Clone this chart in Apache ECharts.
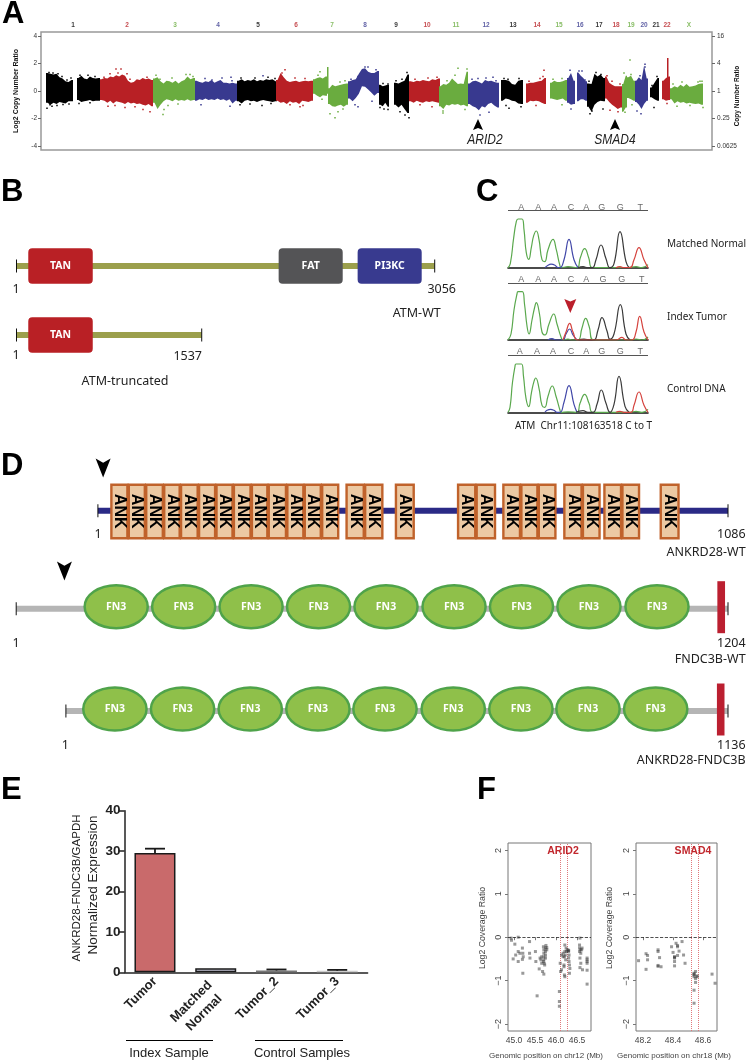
<!DOCTYPE html>
<html>
<head>
<meta charset="utf-8">
<title>Figure</title>
<style>html,body{margin:0;background:#fff}#c{width:747px;height:1062px}</style>
<script src="https://cdn.jsdelivr.net/npm/echarts@6/dist/echarts.min.js"></script>
</head>
<body>
<div id="c"></div>
<script>
/* Panel A: genome copy number track, read as hi/lo envelope per chromosome stretch */
const chrLabels = ["1","2","3","4","5","6","7","8","9","10","11","12","13","14","15","16","17","18","19","20","21","22","X"];
const chrLabelPos = [73,127,175,218,258,296,332,365,396,427,456,486,513,537,559,580,599,616,631,644,656,667,689];
const chrPalette = ["#000000","#b82025","#6aac3f","#38398f"];
// [colour index, start, end]
const trackSegs = [
  [0,46,73],[0,77,100],[1,100,153],[2,153,195],[3,195,237],[0,237,277],[1,276,313],
  [2,313,327],[2,327,328.5],[2,328,348],[3,348,379],[0,379,389],[0,394,409],[1,409,440],
  [2,439,468],[3,468,499],[0,501,523],[1,526,546],[2,550,567],[3,567,575],[3,577,587],
  [0,587,605],[1,605,622],[2,622,627],[2,627,635],[3,635,648],[0,650,659],[1,662,670],[1,667,668.5],[2,670,703]
];
const trackHi = [
  [1.3,1.25,1.2,1.25,1.0,0.9,0.7,0.65,0.8],
  [0.95,1.1,0.9,0.85,1.05,0.95,0.9,0.95],
  [0.85,0.95,0.9,1.05,1.0,1.15,1.05,1.2,1.1,0.75,0.6,0.65,0.85,0.8,0.95,0.85,0.9,0.8],
  [0.9,1.0,0.7,0.55,0.75,0.7,0.6,0.75,0.55,0.7,0.8,1.05,0.85,0.95],
  [0.75,0.65,0.6,0.7,0.65,0.8,0.6,0.7,0.8,0.6,0.6,0.55,0.6,0.55],
  [0.75,0.85,0.7,0.8,0.75,0.85,0.7,0.8,0.75,0.85,0.8,0.85,0.7],
  [0.8,1.3,1.0,0.75,0.65,0.7,0.75,0.65,0.7,0.75,0.7,0.75],
  [0.85,0.95,1.0,0.9,1.05],
  [1.75],
  [0.2,0.45,0.35,0.4,0.45,0.5,0.55],
  [0.7,0.8,0.85,1.25,1.6,1.65,1.4,1.3,1.3,1.45],
  [0.45,0.35,0.4,0.45],
  [0.6,0.55,0.65,0.75,1.2],
  [0.7,0.65,0.75,0.7,0.8,0.75,0.7,0.85,0.8,0.9],
  [0.35,0.5,0.45,0.6,0.9,0.7,0.5,0.55,0.5,1.4],
  [0.55,0.7,0.75,0.65,0.55,0.8,0.7,0.75,0.65,0.6],
  [0.8,0.8,0.75,0.5,0.45,0.75,0.8],
  [0.55,0.6,0.6,0.65,0.7,0.75,0.95],
  [0.6,0.75,0.65,0.65,0.7,0.8],
  [0.95,1.3,0.75],
  [1.35,1.1,0.95,0.7],
  [0.55,0.5,1.25,1.05,1.2,0.95],
  [1.05,0.6,0.45,0.35,0.35,0.35],
  [0.5,1.1],
  [1.0,1.1,0.75],
  [0.75,1.0,0.8,1.85,0.9],
  [0.25,0.6,0.95],
  [0.75,0.95,1.05],
  [2.4],
  [0.2,0.35,0.25,0.45,0.3,0.5,0.3,0.35,0.4,0.5,0.55]
];
const trackLo = [
  [-0.85,-1.0,-0.85,-0.95,-0.8,-0.85,-0.9,-0.75,-0.75],
  [-0.65,-0.8,-0.75,-0.7,-0.65,-0.75,-0.7,-0.7],
  [-0.65,-0.7,-0.85,-0.7,-0.9,-0.75,-0.8,-0.85,-0.95,-0.8,-0.9,-0.85,-0.95,-0.9,-1.0,-1.05,-0.95,-1.1],
  [-0.85,-1.3,-1.0,-0.75,-0.6,-0.65,-0.75,-0.6,-0.7,-0.65,-0.7,-0.6,-0.7,-0.65],
  [-0.7,-0.6,-0.65,-0.55,-0.65,-0.6,-0.65,-0.55,-0.65,-0.6,-0.7,-0.6,-0.9,-0.7],
  [-0.75,-0.9,-0.7,-0.65,-0.75,-0.7,-0.8,-0.7,-0.65,-0.7,-0.75,-0.8,-0.75],
  [-0.7,-0.85,-0.8,-0.95,-0.75,-0.85,-0.8,-0.95,-0.7,-0.75,-0.8,-0.7],
  [-0.2,-0.35,-0.45,-0.3,-0.35],
  [-0.2],
  [-0.95,-1.1,-1.15,-1.05,-1.0,-1.15,-1.0],
  [-0.55,-0.75,-0.5,-0.2,0.35,0.3,0.1,-0.1,-0.35,-0.15],
  [-1.0,-1.1,-0.85,-1.15],
  [-1.0,-1.2,-1.0,-1.3,-1.6],
  [-0.75,-0.85,-0.7,-0.8,-0.85,-0.75,-0.8,-0.75,-0.8,-0.85],
  [-1.1,-1.3,-1.0,-1.05,-0.95,-1.0,-0.95,-1.05,-1.0,-1.1],
  [-0.95,-1.1,-1.2,-1.4,-1.1,-1.2,-0.95,-0.85,-1.05,-1.2],
  [-0.7,-0.55,-0.6,-0.7,-0.75,-0.9,-0.95],
  [-0.85,-0.7,-0.75,-0.7,-0.75,-0.85,-0.95],
  [-0.55,-0.6,-0.65,-0.6,-0.55,-0.7],
  [-0.85,-1.0,-0.95],
  [-0.75,-0.6,-0.6,-0.7],
  [-1.15,-1.5,-1.0,-0.8,-0.7,-0.75],
  [-0.55,-0.8,-1.0,-1.15,-1.3,-1.2],
  [-1.5,-1.2],
  [-0.5,-0.6,-0.7],
  [-0.8,-1.0,-1.3,-0.95,-0.7],
  [-0.45,-0.6,-0.7],
  [-0.6,-0.7,-0.65],
  [-0.3],
  [-0.6,-0.9,-0.75,-0.85,-0.8,-0.9,-0.85,-0.9,-0.95,-0.9,-1.0]
];
const outliersBlack = [[47,-1.25],[50,-1.0],[52,-1.1],[57,-1.05],[63,-0.98],[69,-0.95],[79,-0.9],[90,-0.85],[240,-1.0],[250,-0.95],[262,-1.05],[271,-0.9],
  [380,-1.2],[384,-1.3],[388,-1.35],[400,-1.5],[405,-1.75],[409,-1.95],[408,-1.5],[506,-1.05],[509,-1.25],[521,-1.15],[590,-1.65],[592,-1.45],[603,-1.3],[654,-1.2],
  [49,1.35],[53,1.3],[58,1.25],[62,1.05],[67,0.8],[71,0.95],[80,1.15],[88,1.15],[95,1.05],[241,0.95],[255,0.95],[268,1.0],[275,0.9],[383,0.55],[388,0.5],[396,0.75],[402,0.85],[407,1.35],[504,0.9],[508,0.85],[519,0.9],[589,0.7],[596,1.35],[601,1.2],[652,0.4],[657,1.05]];
const outliersRed = [[116,1.6],[121,1.6],[108,-1.1],[115,-1.05],[125,-1.2],[135,-1.15],[143,-1.35],[150,-1.5],[285,1.55],[290,-1.0],[300,-1.15],[303,-1.05],[420,-1.0],[432,-1.15],[544,1.5],[536,-1.05],[610,-1.4],[618,-1.5],[667,-0.9],
  [104,1.0],[110,1.25],[118,1.3],[127,1.25],[130,0.85],[147,1.0],[282,1.3],[295,0.95],[305,0.9],[415,0.85],[428,0.95],[437,1.0],[529,0.7],[543,1.05],[540,0.9],[607,1.1],[612,0.7],[620,0.5]];
const outliersGreen = [[163,-1.7],[164,-1.35],[168,-1.05],[178,-0.95],[186,1.2],[320,1.4],[322,-0.6],[330,-1.65],[335,-1.95],[338,-1.5],[343,-1.3],[443,-1.45],[443,-1.6],[458,1.65],[465,-1.35],[562,-1.0],[630,2.25],[625,-1.55],[632,-1.0],[677,-1.1],[690,-1.05],[703,-1.2],[700,0.7],
  [156,1.15],[160,0.85],[172,0.95],[190,1.2],[193,1.05],[318,1.15],[340,0.65],[345,0.75],[447,0.75],[455,1.15],[467,1.6],[553,0.85],[562,0.9],[624,1.3],[631,1.2],[673,0.5],[682,0.65],[698,0.65],[702,0.7]];
const outliersBlue = [[201,-1.0],[230,-1.1],[231,1.0],[263,1.1],[365,1.75],[355,-1.0],[358,-1.15],[372,-0.75],[480,-1.75],[489,-1.55],[493,1.0],[571,-1.3],[582,1.45],[637,-1.45],[641,-1.65],[645,1.75],
  [205,0.9],[212,0.8],[222,0.95],[232,0.75],[351,0.85],[358,1.05],[368,1.75],[376,1.55],[472,0.85],[478,0.9],[486,0.95],[496,0.75],[570,1.5],[579,1.45],[585,0.8],[645,1.95],[640,1.1]];
const trackTicksLeft = [-4,-2,0,2,4];
const trackTicksRight = ["0.0625","0.25","1","4","16"];
const trackArrows = [[478,-2.44],[615,-2.44]];

/* Panel B: ATM domains, residues */
const atmDomainNames = ["TAN","FAT","PI3KC"];
const atmDomainStart = [87,1916,2493];
const atmDomainEnd = [558,2384,2961];
const atmLength = 3056;
const atmTruncDrawnEnd = 1354;

/* Panel C: sanger traces, [scan, intensity] */
const baseLetters = ["A","A","A","C","A","G","G","T"];
const baseLetterPos = [
  [13.3,30.3,46,63,78.3,93.7,112.3,132.3],
  [13.3,30.3,46,63,78.3,95,113.7,133.7],
  [11.7,29,45,63,78.3,93.7,112.3,132.3]
];
const traceA = [
  [[0,0],[2.3,4],[5.7,30],[8.3,46],[10,48.7],[14,48.7],[16,38],[18.3,15],[20.7,8.3],[23.3,20],[25.7,32],[28.3,36.7],[31,28],[34,8],[36.7,6],[40,18],[45,28.3],[48.3,18],[51.7,3],[53.3,0],[60,1],[69,0],[72.3,10],[76.7,19],[80.7,10],[84.3,0],[120,0],[128,1],[134,0],[140,3]],
  [[0,0],[3,6],[6,30],[9,46],[10,48.3],[14.3,48.3],[16.5,36],[19,14],[21,6],[24,20],[26.5,32],[28.3,37.3],[31.5,26],[34,8],[37,5],[41,16],[45.7,26],[49,16],[53,3],[55,0],[60,1],[64,0],[70,0],[74,12],[77.7,21.7],[81,14],[85.7,0],[122,0],[128,1],[134,0],[140,3]],
  [[0,0],[2,5],[4.5,30],[7,46],[8,48.3],[13.5,48.3],[15.5,36],[18,14],[20.7,5.7],[23.5,20],[26,31],[27.7,34.3],[31,24],[34,7],[36.7,5],[40,16],[44.3,26.3],[48,16],[52,2],[53,0],[60,0.5],[69,0],[72,9],[76.7,18],[81,9],[85,0],[122,0],[128,1],[134,0],[140,3]]
];
const traceC = [
  [[37,0],[40,2.5],[43,3.5],[47,2.5],[50,0],[52,0],[56,8],[61,28.3],[66,8],[70,0]],
  [[40,0],[44,1.3],[48,0],[55,0],[58,6],[61.7,11],[65,5],[69,0]],
  [[37,0],[39,2],[42.7,3],[46,2],[49,0],[52,0],[56,10],[61,26.7],[66,8],[69,0]]
];
const traceG = [
  [[70,0],[75,1],[80,0],[84.3,0],[88,8],[93,22.7],[98,9],[102,0],[106,4],[112,36],[118,6],[121,0]],
  [[70,0],[76,1],[82,0],[86,0],[90,10],[94,22.3],[99,9],[102,0.7],[106,6],[112.3,35.3],[118,6],[122,0]],
  [[68,0],[75,1.7],[80,0],[85,0],[89,8],[93.3,22.3],[98,9],[102,0],[106,8],[111,36],[117,6],[121,0]]
];
const traceT = [
  [[108,0],[112,1],[116,0],[122,0],[126,8],[131,20],[136,8],[140,0]],
  [[55,0],[58,8],[61.7,16.7],[65,8],[70,0],[108,0],[114,2.7],[118,0],[124,0],[128,8],[131.7,23.7],[136,8],[140,0]],
  [[108,0],[112,1],[116,0],[123,0],[126,7],[131,20.3],[136,7],[140,0]]
];
const mutationMark = [62.3,34];

/* Panel D: domain positions, residues */
const ankStart = [23,53,83,114,143,174,204,234,265,294,326,356,386,428,460,513,620,652,698,729,759,803,835,872,903,969];
const ankEnd = [53,83,114,143,174,204,234,265,294,326,356,386,416,460,492,546,652,686,729,759,790,835,866,903,934,1002];
const ankrdLength = 1086;
const ankrdMark = [10,42.7];
const fndcLength = 1204;
const fndcFn3Start = [115,229,343,457,571,686,800,914,1029];
const fndcFn3End = [225,339,453,567,681,796,910,1024,1139];
const fndcTail = [1186,1199];
const fndcMark = [82.5,37.7];
const fusionLength = 1136;
const fusionFn3Start = [29,145,261,377,492,609,725,840,956];
const fusionFn3End = [141,257,373,489,604,721,837,952,1068];
const fusionTail = [1117,1130];

/* Panel E */
const qpcrCats = ["Tumor","Matched Normal","Tumor_2","Tumor_3"];
const qpcrVals = [29.5,1.0,0.45,0.4];
const qpcrErrTop = [30.6,1.0,0.7,0.6];

/* Panel F: [position Mb, log2 ratio] */
const arid2Pts = [[44.93,-0.02],[44.94,-0.07],[45.02,-0.16],[45.1,0],[45.1,-0.33],[45.14,-0.37],[45.04,-0.41],[44.98,-0.5],[45.1,-0.56],[45.2,-0.25],[45.22,-0.45],[45.21,-0.37],[45.2,-0.51],[45.21,-0.83],[45.37,-0.1],[45.37,-0.37],[45.38,-0.48],[45.51,-0.33],[45.52,-0.56],[45.6,-0.73],[45.62,-0.48],[45.64,-0.52],[45.66,-0.45],[45.68,-0.79],[45.71,-0.85],[45.7,-0.22],[45.71,-0.29],[45.71,-0.37],[45.71,-0.45],[45.71,-0.52],[45.72,-0.6],[45.75,-0.25],[45.75,-0.33],[45.75,-0.41],[45.75,-0.48],[45.76,-0.19],[45.78,-0.24],[45.78,-0.29],[45.7,-0.56],[45.66,-0.6],[45.73,-0.64],[45.55,-1.35],[46.08,-1.25],[46.08,-1.48],[46.08,-1.59],[46.1,-0.6],[46.11,-0.79],[46.13,-0.41],[46.17,-0.45],[46.19,-0.64],[46.2,-0.87],[46.21,-0.91],[46.19,-0.68],[46.21,-0.33],[46.22,-0.41],[46.21,-0.18],[46.24,-0.25],[46.25,-0.33],[46.27,-0.29],[46.29,-0.32],[46.3,-0.32],[46.3,-0.3],[46.31,-0.41],[46.3,-0.48],[46.31,-0.56],[46.32,-0.64],[46.33,-0.72],[46.32,-0.83],[46.23,-0.52],[46.2,-0.45],[46.17,-0.37],[46.13,-0.75],[46.57,-0.02],[46.56,-0.18],[46.56,-0.25],[46.56,-0.33],[46.58,-0.29],[46.59,-0.37],[46.61,-0.29],[46.62,-0.25],[46.57,-0.48],[46.59,-0.6],[46.57,-0.7],[46.63,-0.75],[46.74,-0.48],[46.74,-0.52],[46.74,-0.56],[46.74,-0.6],[46.74,-0.76],[46.74,-1.08]];
const smad4Pts = [[48.17,-0.54],[48.22,-0.38],[48.23,-0.42],[48.23,-0.52],[48.22,-0.74],[48.3,-0.29],[48.3,-0.33],[48.31,-0.47],[48.3,-0.65],[48.3,-0.67],[48.32,-0.68],[48.39,-0.22],[48.4,-0.35],[48.41,-0.45],[48.41,-0.48],[48.41,-0.46],[48.41,-0.66],[48.41,-0.56],[48.42,-0.14],[48.43,-0.19],[48.43,-0.22],[48.43,-0.42],[48.44,-0.32],[48.46,-0.1],[48.47,-0.41],[48.48,-0.6],[48.54,-0.83],[48.54,-0.87],[48.54,-0.85],[48.55,-0.79],[48.54,-0.91],[48.55,-0.95],[48.56,-0.91],[48.56,-0.89],[48.55,-1.04],[48.54,-1.22],[48.54,-1.52],[48.66,-0.85],[48.68,-1.06]];
const arid2Bounds = [46.09,46.27];
const smad4Bounds = [48.52,48.57];

const grids = [], xAxes = [], yAxes = [], series = [], gfx = [];
const SANS = '"Liberation Sans", Arial, sans-serif';
const HUM = '"Noto Sans", sans-serif';

function addGrid(g, x, y) {
  const i = grids.length;
  grids.push(g);
  xAxes.push(Object.assign({ gridIndex: i, type: "value" }, x));
  yAxes.push(Object.assign({ gridIndex: i, type: "value" }, y));
  return i;
}
function txt(x, y, text, size, opts) {
  gfx.push(Object.assign({ type: "text", x, y, silent: true, style: Object.assign({
    text, fontSize: size, fontFamily: HUM, fill: "#222", align: "left", verticalAlign: "middle" }, (opts && opts.style) || {}) },
    opts && opts.el));
}
const rect = (x, y, w, h, style, r) => ({ type: "rect", shape: { x, y, width: w, height: h, r: r || 0 }, style });

/* ---- A ---- */
const gA = addGrid({ left: 41, top: 32, width: 671, height: 118, show: true, borderColor: "#999", borderWidth: 1.5, backgroundColor: "transparent" },
  { min: 41, max: 712, show: false },
  { min: -4.29, max: 4.29, splitLine: { show: false },
    axisLine: { show: false }, axisTick: { length: 3, lineStyle: { color: "#666" }, customValues: trackTicksLeft },
    axisLabel: { customValues: trackTicksLeft, fontSize: 6.5, color: "#333", margin: 4, fontFamily: SANS } });

// one filled outline per stretch: along the hi values, back along the lo values
series.push({ type: "custom", xAxisIndex: gA, yAxisIndex: gA, silent: true, data: trackSegs.map((s, i) => [i]), renderItem: (p, api) => {
  const i = api.value(0), s = trackSegs[i], hi = trackHi[i], lo = trackLo[i];
  const w = (s[2] - s[1]) / hi.length, pts = [];
  pts.push(api.coord([s[1], hi[0]]));
  hi.forEach((v, k) => pts.push(api.coord([s[1] + (k + 0.5) * w, v])));
  pts.push(api.coord([s[2], hi[hi.length - 1]]), api.coord([s[2], lo[lo.length - 1]]));
  for (let k = lo.length - 1; k >= 0; k--) pts.push(api.coord([s[1] + (k + 0.5) * w, lo[k]]));
  pts.push(api.coord([s[1], lo[0]]));
  return { type: "polygon", shape: { points: pts }, style: { fill: chrPalette[s[0]] } };
} });
[outliersBlack, outliersRed, outliersGreen, outliersBlue].forEach((pts, i) => series.push({
  type: "scatter", xAxisIndex: gA, yAxisIndex: gA, data: pts, symbol: "rect", symbolSize: 1.5, silent: true, itemStyle: { color: chrPalette[i], opacity: 1 } }));
series.push({ type: "scatter", xAxisIndex: gA, yAxisIndex: gA, silent: true, symbol: "path://M50,0 L100,100 L50,82 L0,100 Z", symbolSize: [10, 11],
  data: trackArrows, itemStyle: { color: "#000", opacity: 1 } });
series.push({ type: "scatter", xAxisIndex: gA, yAxisIndex: gA, silent: true, symbolSize: 0,
  data: chrLabels.map((c, i) => ({ value: [chrLabelPos[i], 4.29],
    label: { show: true, formatter: c, position: "top", distance: 3, fontSize: 6.5, fontWeight: "bold", fontFamily: SANS, color: chrPalette[i % 4] } })) });

/* ---- protein rows (B, D) ---- */
function proteinRow(x0, x1, cy, len) {
  return addGrid({ left: x0, width: x1 - x0, top: cy - 70, height: 140 },
    { min: 1, max: len, show: false }, { min: -70, max: 70, show: false });
}
function backbone(g, end, color, thick) {
  series.push({ type: "custom", xAxisIndex: g, yAxisIndex: g, silent: true, data: [[1, end]], z: 2, renderItem: (p, api) => {
    const a = api.coord([api.value(0), 0]), b = api.coord([api.value(1), 0]);
    return { type: "group", children: [
      rect(a[0], a[1] - thick / 2, b[0] - a[0], thick, { fill: color }),
      rect(a[0] - 0.5, a[1] - 6.5, 1, 13, { fill: "#111" }),
      rect(b[0] - 0.5, b[1] - 6.5, 1, 13, { fill: "#111" })
    ] };
  } });
}
function domains(g, starts, ends, draw) {
  series.push({ type: "custom", xAxisIndex: g, yAxisIndex: g, silent: true, z: 3, data: starts.map((s, i) => [s, ends[i], i]), renderItem: (p, api) => {
    const a = api.coord([api.value(0), 0]), b = api.coord([api.value(1), 0]);
    return draw(a[0], b[0], a[1], api.value(2));
  } });
}
const ATM_COLORS = ["#b92025", "#545456", "#383a8f"];
function atmBox(names) {
  return (x0, x1, cy, i) => ({ type: "group", children: [
    rect(x0, cy - 17.7, x1 - x0, 35.4, { fill: ATM_COLORS[i] }, 4),
    { type: "text", x: (x0 + x1) / 2, y: cy, style: { text: names[i], fill: "#fff", fontSize: 10.5, fontWeight: "bold", fontFamily: HUM, align: "center", verticalAlign: "middle" } }
  ] });
}
const gB1 = proteinRow(16.5, 434.7, 266, atmLength);
backbone(gB1, atmLength, "#9b9f4c", 6);
domains(gB1, atmDomainStart, atmDomainEnd, atmBox(atmDomainNames));
const gB2 = proteinRow(16.5, 434.7, 335, atmLength);
backbone(gB2, atmTruncDrawnEnd, "#9b9f4c", 6);
domains(gB2, atmDomainStart.slice(0, 1), atmDomainEnd.slice(0, 1), atmBox(atmDomainNames));

const markerPath = "path://M0,0 L50,22 L100,0 L50,100 Z";
function marker(g, pt) {
  series.push({ type: "scatter", xAxisIndex: g, yAxisIndex: g, silent: true, symbol: markerPath, symbolSize: [15, 19], data: [pt], itemStyle: { color: "#000", opacity: 1 } });
}
const ankBox = (x0, x1, cy) => ({ type: "group", children: [
  rect(x0 + 0.7, cy - 26, x1 - x0 - 1.4, 53.5, { fill: "#ecc9a3", stroke: "#c0622b", lineWidth: 2.4 }),
  { type: "text", x: (x0 + x1) / 2, y: cy + 0.5, rotation: -Math.PI / 2, style: { text: "ANK", fill: "#000", fontSize: 16, fontWeight: "bold", fontFamily: SANS, align: "center", verticalAlign: "middle" } }
] });
const fn3Oval = (x0, x1, cy) => ({ type: "group", children: [
  { type: "ellipse", shape: { cx: (x0 + x1) / 2, cy: cy - 2, rx: (x1 - x0) / 2 - 1, ry: 21.5 }, style: { fill: "#8fc04a", stroke: "#4fa34a", lineWidth: 2.5 } },
  { type: "text", x: (x0 + x1) / 2, y: cy - 2, style: { text: "FN3", fill: "#fff", fontSize: 10.5, fontWeight: "bold", fontFamily: HUM, align: "center", verticalAlign: "middle" } }
] });
const tailBar = (x0, x1, cy) => rect(x0, cy - 27.5, x1 - x0, 52, { fill: "#bb1f30" });

const gD1 = proteinRow(97.9, 728, 510.7, ankrdLength);
backbone(gD1, ankrdLength, "#2b2a86", 6);
domains(gD1, ankStart, ankEnd, ankBox);
marker(gD1, ankrdMark);
const gD2 = proteinRow(16.2, 728, 608.7, fndcLength);
backbone(gD2, fndcLength, "#b5b5b5", 6);
domains(gD2, fndcFn3Start, fndcFn3End, fn3Oval);
domains(gD2, [fndcTail[0]], [fndcTail[1]], tailBar);
marker(gD2, fndcMark);
const gD3 = proteinRow(65.9, 728, 711, fusionLength);
backbone(gD3, fusionLength, "#b5b5b5", 6);
domains(gD3, fusionFn3Start, fusionFn3End, fn3Oval);
domains(gD3, [fusionTail[0]], [fusionTail[1]], tailBar);

/* ---- C ---- */
const TRACE_COLORS = ["#5aa84d", "#4147a8", "#3a3a3a", "#d5433e"];
[267.7, 340, 412.3].forEach((base, r) => {
  const g = addGrid({ left: 508, width: 140, top: base - 64, height: 64 },
    { min: 0, max: 140, axisLine: { show: true, lineStyle: { color: "#111", width: 1.6 } }, axisTick: { show: false }, axisLabel: { show: false }, splitLine: { show: false } },
    { min: 0, max: 64, show: false });
  [traceA, traceC, traceG, traceT].forEach((t, k) => series.push({ type: "line", xAxisIndex: g, yAxisIndex: g, silent: true, data: t[r], smooth: 0.5,
    symbol: "none", lineStyle: { color: TRACE_COLORS[k], width: 1.2 } }));
  series.push({ type: "scatter", xAxisIndex: g, yAxisIndex: g, silent: true, symbolSize: 0,
    data: baseLetters.map((b, i) => ({ value: [baseLetterPos[r][i], 60.5], label: { show: true, position: "inside", formatter: b, fontSize: 9, color: "#444", fontFamily: SANS } })),
    markLine: { silent: true, symbol: "none", label: { show: false }, lineStyle: { color: "#555", width: 1, type: "solid" }, data: [{ yAxis: 57 }] } });
  if (r === 1) series.push({ type: "scatter", xAxisIndex: g, yAxisIndex: g, silent: true, symbol: "path://M0,0 L50,18 L100,0 L50,100 Z", symbolSize: [12, 14],
    data: [mutationMark], itemStyle: { color: "#bb1f2b", opacity: 1 } });
});

/* ---- E ---- */
const gE = grids.length;
grids.push({ left: 124.6, top: 810.7, width: 243, height: 161.6 });
const boldAxis = { fontWeight: "bold", fontFamily: SANS, color: "#222" };
xAxes.push({ gridIndex: gE, type: "category", data: qpcrCats, axisLine: { lineStyle: { color: "#222", width: 1.5 } },
  axisTick: { alignWithLabel: true, length: 5, lineStyle: { color: "#222", width: 1.5 } },
  // the two-line label sits off the tick in the figure, so it goes in as text below
  axisLabel: Object.assign({ rotate: 45, fontSize: 13, margin: 7, interval: 0, formatter: (v) => (v.indexOf(" ") > 0 ? "" : v) }, boldAxis) });
yAxes.push({ gridIndex: gE, type: "value", min: 0, max: 40, interval: 10, splitLine: { show: false },
  axisLine: { show: true, lineStyle: { color: "#222", width: 1.5 } }, axisTick: { show: true, length: 6, lineStyle: { color: "#222", width: 1.5 } },
  axisLabel: Object.assign({ fontSize: 13.5, margin: 4 }, boldAxis) });
const barFills = ["#c96a6b", "#c9c9da", "#8a8a8a", "#dddddd"];
const barEdges = ["#1a1a1a", "#1a1a1a", "#777777", "#cccccc"];
series.push({ type: "bar", xAxisIndex: gE, yAxisIndex: gE, barWidth: 41, silent: true,
  data: qpcrVals.map((v, i) => ({ value: v, itemStyle: { color: barFills[i], borderColor: barEdges[i], borderWidth: 1.5 } })) });
series.push({ type: "custom", xAxisIndex: gE, yAxisIndex: gE, silent: true, z: 4, data: qpcrErrTop.map((v, i) => [i, qpcrVals[i], v]), renderItem: (p, api) => {
  if (api.value(2) <= api.value(1)) return null;
  const a = api.coord([api.value(0), api.value(1)]), b = api.coord([api.value(0), api.value(2)]);
  const ls = { stroke: "#1a1a1a", lineWidth: 1.8 };
  return { type: "group", children: [
    { type: "line", shape: { x1: a[0], y1: a[1], x2: b[0], y2: b[1] }, style: ls },
    { type: "line", shape: { x1: a[0] - 10, y1: b[1], x2: a[0] + 10, y2: b[1] }, style: ls }
  ] };
} });

/* ---- F ---- */
function coveragePanel(left, width, xMin, xMax, xTicks, digits, pts, bounds) {
  const ticks = [-2, -1, 0, 1, 2];
  const g = addGrid({ left, width, top: 843, height: 188, show: true, borderColor: "#777", borderWidth: 1, backgroundColor: "transparent" },
    { min: xMin, max: xMax, splitLine: { show: false }, axisLine: { show: false },
      axisTick: { length: 3, lineStyle: { color: "#777" }, customValues: xTicks },
      axisLabel: { customValues: xTicks, formatter: (v) => v.toFixed(digits), fontSize: 8.5, color: "#444", margin: 5, fontFamily: SANS } },
    { min: -2.16, max: 2.17, splitLine: { show: false }, axisLine: { show: false },
      axisTick: { length: 3, lineStyle: { color: "#777" }, customValues: ticks },
      axisLabel: { customValues: ticks, rotate: 90, fontSize: 9, color: "#444", margin: 5, fontFamily: SANS, formatter: (v) => (v < 0 ? "\u2212" + -v : "" + v) } });
  series.push({ type: "scatter", xAxisIndex: g, yAxisIndex: g, silent: true, data: pts, symbol: "rect", symbolSize: 3, itemStyle: { color: "#333", opacity: 0.5 }, z: 3,
    markLine: { silent: true, symbol: "none", label: { show: false }, animation: false, z: 2, data: [
      { yAxis: 0, lineStyle: { color: "#222", type: "dashed", width: 0.8 } },
      { xAxis: bounds[0], lineStyle: { color: "#e0777b", type: "dotted", width: 1 } },
      { xAxis: bounds[1], lineStyle: { color: "#e0777b", type: "dotted", width: 1 } }
    ] } });
}
coveragePanel(508, 83, 44.857, 46.833, [45, 45.5, 46, 46.5], 1, arid2Pts, arid2Bounds);
coveragePanel(636, 81, 48.153, 48.693, [48.2, 48.4, 48.6], 1, smad4Pts, smad4Bounds);

// right hand axis of panel A, pushed last so axis indices keep following grid indices
yAxes.push({ gridIndex: gA, type: "value", position: "right", min: -4.29, max: 4.29, splitLine: { show: false }, axisLine: { show: false },
  axisTick: { length: 3, lineStyle: { color: "#666" }, customValues: trackTicksLeft },
  axisLabel: { customValues: trackTicksLeft, fontSize: 6.5, color: "#333", margin: 5, fontFamily: SANS,
    formatter: (v) => trackTicksRight[trackTicksLeft.indexOf(v)] } });

/* ---- free text ---- */
[["A",2,14],["B",1,192],["C",476,192],["D",1,466],["E",1,790],["F",477,790]].forEach((l) =>
  txt(l[1], l[2], l[0], 31, { style: { fontWeight: "bold", fontFamily: SANS, fill: "#000" } }));

const rotLeft = { rotation: Math.PI / 2 };
txt(16, 91, "Log2 Copy Number Ratio", 7, { el: rotLeft, style: { fontWeight: "bold", fontFamily: SANS, align: "center", fill: "#111" } });
txt(737, 96, "Copy Number Ratio", 6.5, { el: rotLeft, style: { fontWeight: "bold", fontFamily: SANS, align: "center", fill: "#111" } });
const narrowIt = { fontStyle: "italic", fontFamily: SANS, align: "center", fill: "#222" };
txt(485, 140, "ARID2", 15, { el: { scaleX: 0.8 }, style: narrowIt });
txt(615, 140, "SMAD4", 15, { el: { scaleX: 0.8 }, style: narrowIt });

const center = { align: "center" }, right = { align: "right" };
txt(16, 289, "1", 12.5, { style: center });
txt(441.7, 289, "3056", 12.5, { style: center });
txt(416.7, 313, "ATM-WT", 12.5, { style: center });
txt(16, 355, "1", 12.5, { style: center });
txt(187.7, 356, "1537", 12.5, { style: center });
txt(125, 381, "ATM-truncated", 12.5, { style: center });

txt(667, 244, "Matched Normal", 10);
txt(667, 317, "Index Tumor", 10);
txt(667, 389, "Control DNA", 10);
txt(515, 425.7, "ATM  Chr11:108163518 C to T", 10);

txt(98, 534, "1", 12.5, { style: center });
txt(745.6, 534, "1086", 12.5, { style: right });
txt(745.6, 552, "ANKRD28-WT", 12.5, { style: right });
txt(16, 643, "1", 12.5, { style: center });
txt(745.6, 643, "1204", 12.5, { style: right });
txt(745.6, 659, "FNDC3B-WT", 12.5, { style: right });
txt(65.4, 745, "1", 12.5, { style: center });
txt(745.6, 745, "1136", 12.5, { style: right });
txt(745.6, 760, "ANKRD28-FNDC3B", 12.5, { style: right });

txt(77, 888, "ANKRD28-FNDC3B/GAPDH", 11.5, { el: { rotation: Math.PI / 2 }, style: { fontFamily: SANS, align: "center" } });
txt(93, 885, "Normalized Expression", 13.5, { el: { rotation: Math.PI / 2 }, style: { fontFamily: SANS, align: "center" } });
const catBold = { fontFamily: SANS, fontWeight: "bold", align: "right" };
txt(210, 983, "Matched", 13, { el: { rotation: Math.PI / 4 }, style: catBold });
txt(220, 997, "Normal", 13, { el: { rotation: Math.PI / 4 }, style: catBold });
gfx.push({ type: "line", silent: true, shape: { x1: 126, y1: 1040.5, x2: 213, y2: 1040.5 }, style: { stroke: "#000", lineWidth: 1 } });
gfx.push({ type: "line", silent: true, shape: { x1: 255, y1: 1040.5, x2: 343, y2: 1040.5 }, style: { stroke: "#000", lineWidth: 1 } });
txt(169, 1053, "Index Sample", 13, { style: { fontFamily: SANS, align: "center" } });
txt(302, 1053, "Control Samples", 13, { style: { fontFamily: SANS, align: "center" } });

const fTitle = { fontFamily: SANS, fontWeight: "bold", fill: "#c1272d", align: "center" };
txt(563, 851, "ARID2", 10.5, { style: fTitle });
txt(693, 851, "SMAD4", 10.5, { style: fTitle });
const fAxis = { fontFamily: SANS, fill: "#444", align: "center" };
txt(483, 928, "Log2 Coverage Ratio", 8.7, { el: { rotation: Math.PI / 2 }, style: fAxis });
txt(610, 928, "Log2 Coverage Ratio", 8.7, { el: { rotation: Math.PI / 2 }, style: fAxis });
txt(546, 1056, "Genomic position on chr12 (Mb)", 8, { style: fAxis });
txt(674, 1056, "Genomic position on chr18 (Mb)", 8, { style: fAxis });

echarts.init(document.getElementById("c"), null, { renderer: "canvas" }).setOption({
  animation: false, backgroundColor: "#fff", tooltip: { show: false }, legend: { show: false },
  grid: grids, xAxis: xAxes, yAxis: yAxes, series, graphic: { elements: gfx }
});
</script>
</body>
</html>
